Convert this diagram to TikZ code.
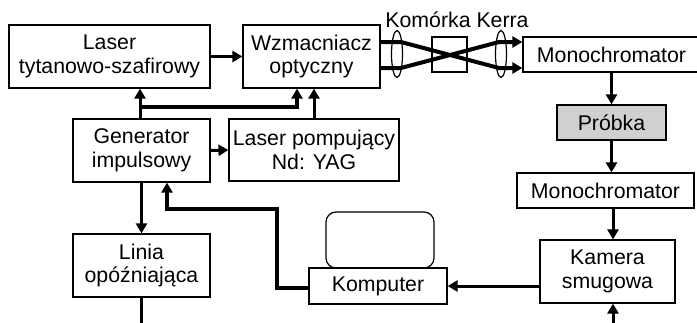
\documentclass[tikz,border=0pt]{standalone}
\usepackage{fontspec}
\setmainfont{Liberation Sans}
\usetikzlibrary{arrows.meta}
\definecolor{FigInk}{HTML}{000000}
\definecolor{FigSample}{HTML}{D0D0D0}
\tikzset{
  every node/.style={font=\fontsize{21.3}{23.5}\selectfont, text=FigInk},
  block/.style={draw=FigInk, line width=1.2pt, inner sep=0pt, align=center},
  wire/.style={-{Triangle[length=10pt,width=11pt]}, draw=FigInk, line width=3pt},
  heavy/.style={wire, line width=4pt},
  lens/.style={draw=FigInk, line width=1.2pt},
}
\begin{document}
\begin{tikzpicture}[x=1pt,y=-1pt]
  \useasboundingbox (0,0) rectangle (697,322);
  % Blocks
  \node[block, minimum width=201pt, minimum height=63pt] (laser) at (109.5,56.5) {Laser\\tytanowo-szafirowy};
  \node[block, minimum width=137pt, minimum height=63pt] (wzm) at (311.5,56.5) {Wzmacniacz\\optyczny};
  \node[block, minimum width=137pt, minimum height=63pt] (gen) at (141.5,150.5) {Generator\\impulsowy};
  \node[block, minimum width=170pt, minimum height=62pt] (pomp) at (314,150) {Laser pompujący\\Nd: YAG};
  \node[block, minimum width=137pt, minimum height=63pt] (linia) at (141.5,265.5) {Linia\\opóźniająca};
  \node[block, minimum width=108pt, minimum height=56pt, rounded corners=10pt] (monitor) at (380,240) {};
  \node[block, minimum width=138pt, minimum height=36pt] (komp) at (378,286) {Komputer};
  \node[block, minimum width=177pt, minimum height=35pt] (mono1) at (611.5,54.5) {Monochromator};
  \node[block, minimum width=109pt, minimum height=35pt, fill=FigSample] (probka) at (611.5,122.5) {Próbka};
  \node[block, minimum width=177pt, minimum height=35pt] (mono2) at (605.5,190.5) {Monochromator};
  \node[block, minimum width=135pt, minimum height=63pt] (kamera) at (607.5,271.5) {Kamera\\smugowa};
  % Kerr cell
  \node[block, minimum width=35pt, minimum height=35pt] (kerr) at (449.5,54.5) {};
  \node[anchor=base] (kerrlabel) at (457,27) {Komórka Kerra};
  \draw[lens] (397,54) ellipse (5.5pt and 23.5pt);
  \draw[lens] (501,54) ellipse (5.5pt and 23.5pt);
  \draw[heavy] (wzm.east |- 0,42) -- (401,42) -- (499,68) -- (mono1.west |- 0,68);
  \draw[heavy] (wzm.east |- 0,68) -- (401,68) -- (499,42) -- (mono1.west |- 0,42);
  % Pump and trigger paths
  \coordinate (split) at (140,107);
  \draw[wire] (laser.east) -- (wzm.west);
  \draw[wire] (split |- gen.north) -- (split |- laser.south);
  \draw[heavy] (split) -| ([xshift=-14.5pt]wzm.south);
  \draw[wire] (pomp.north) -- (pomp.north |- wzm.south);
  \draw[wire] (gen.east) -- (pomp.west);
  \draw[wire] (gen.south) -- (linia.north);
  \coordinate (linout) at (141.5,326);
  \draw[wire, -] (linia.south) -- (linout);
  % Detection path
  \draw[wire] (probka.north |- mono1.south) -- (probka.north);
  \draw[wire] (probka.south) -- (probka.south |- mono2.north);
  \coordinate (camin) at (613,326);
  \draw[wire] (camin |- mono2.south) -- (camin |- kamera.north);
  \draw[wire] (camin) -- (camin |- kamera.south);
  \draw[wire] (kamera.west |- komp.east) -- (komp.east);
  \coordinate (bend) at (277,209);
  \draw[heavy] ([yshift=-2pt]komp.west) -| (bend) -| ([xshift=25.5pt]gen.south);
\end{tikzpicture}
\end{document}
